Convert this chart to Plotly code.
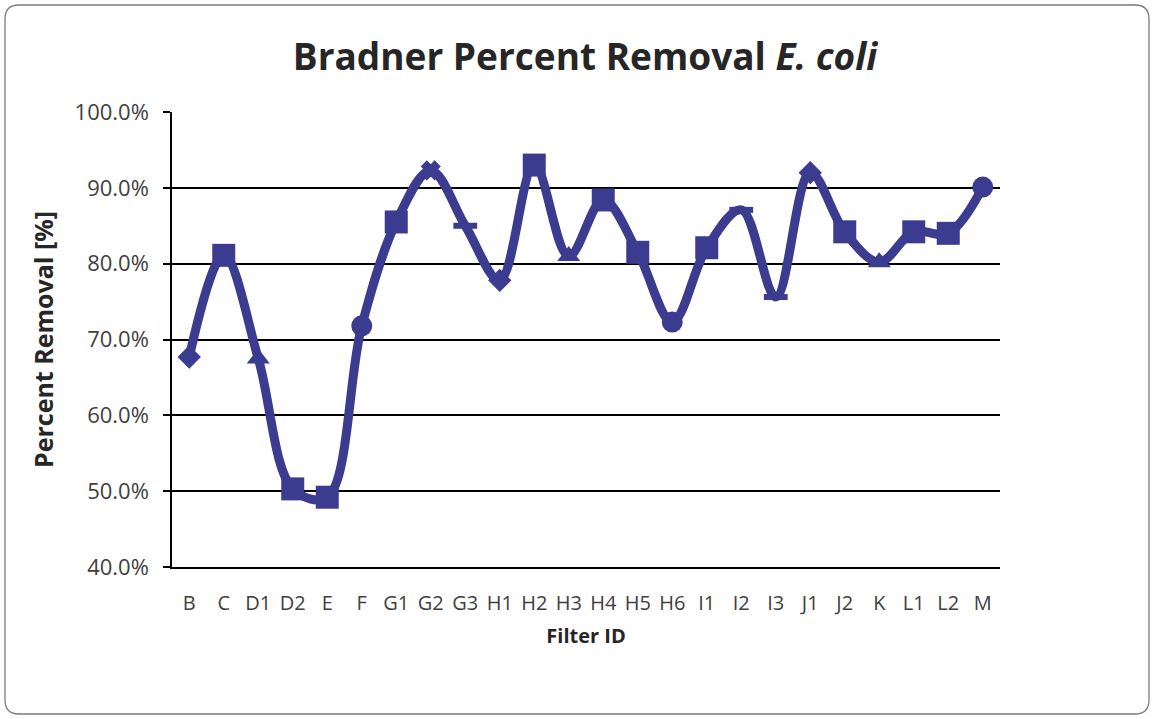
import plotly.graph_objects as go

filters = ["B", "C", "D1", "D2", "E", "F", "G1", "G2", "G3", "H1", "H2", "H3",
           "H4", "H5", "H6", "I1", "I2", "I3", "J1", "J2", "K", "L1", "L2", "M"]
removal = [67.7, 81.1, 67.5, 50.3, 49.2, 71.8, 85.5, 92.3, 85.0, 77.8, 93.0, 81.0,
           88.4, 81.5, 72.3, 82.1, 87.1, 75.6, 92.0, 84.2, 80.2, 84.2, 84.0, 90.1]
symbols = ["diamond", "square", "triangle-up", "square", "square", "circle", "square", "x",
           "line-ew", "diamond", "square", "triangle-up", "square", "square", "circle", "square",
           "line-ew", "line-ew", "diamond", "square", "triangle-up", "square", "square", "circle"]

COLOR = "#3B3B8F"
W, H = 1153, 719
L, R, T, B = 172, 1000, 112, 567

SIZE_BY_SYMBOL = {"diamond": 18, "square": 23, "triangle-up": 20, "circle": 21, "x": 14, "line-ew": 17}
LW_BY_SYMBOL = {"line-ew": 6, "x": 3}
sizes = [SIZE_BY_SYMBOL[s] for s in symbols]
line_w = [LW_BY_SYMBOL.get(s, 0) for s in symbols]

fig = go.Figure()
fig.add_trace(go.Scatter(
    x=filters, y=removal, mode="lines+markers",
    line=dict(color=COLOR, width=9, shape="spline", smoothing=1.0),
    marker=dict(symbol=symbols, size=sizes, color=COLOR, opacity=1,
                line=dict(color=COLOR, width=line_w)),
    showlegend=False, hoverinfo="skip",
))

def px(x):
    return (x - L) / (R - L)

def py(y):
    return (B - y) / (B - T)

# rounded outer border
x0, x1, y0, y1, r = 5, 1149, 5, 714, 14
path = (f"M {px(x0 + r)},{py(y0)} L {px(x1 - r)},{py(y0)} "
        f"Q {px(x1)},{py(y0)} {px(x1)},{py(y0 + r)} L {px(x1)},{py(y1 - r)} "
        f"Q {px(x1)},{py(y1)} {px(x1 - r)},{py(y1)} L {px(x0 + r)},{py(y1)} "
        f"Q {px(x0)},{py(y1)} {px(x0)},{py(y1 - r)} L {px(x0)},{py(y0 + r)} "
        f"Q {px(x0)},{py(y0)} {px(x0 + r)},{py(y0)} Z")
fig.add_shape(type="path", xref="paper", yref="paper", path=path,
              line=dict(color="#7a7a7a", width=1.3), layer="below")

FONT = "'Open Sans', Lato, sans-serif"

fig.update_layout(
    width=W, height=H,
    margin=dict(l=L, r=W - R, t=T, b=H - B),
    paper_bgcolor="white", plot_bgcolor="white",
    font=dict(family=FONT, color="#404040", size=21),
    title=dict(text="<b>Bradner Percent Removal <i>E. coli</i></b>",
               x=585 / W, xanchor="center", y=1 - 57 / H, yanchor="middle",
               font=dict(size=37, color="#262626", family=FONT)),
)
fig.update_xaxes(
    type="category", range=[-0.5, len(filters) - 0.5],
    showline=True, linecolor="black", linewidth=1.5,
    showgrid=False, ticks="", tickfont=dict(size=20, color="#404040"),
    ticklabelstandoff=17,
    title=dict(text="<b>Filter ID</b>", font=dict(size=20, color="#262626"), standoff=14),
)
fig.update_yaxes(
    range=[40, 100], dtick=10, tickformat=".1f", ticksuffix="%",
    showline=True, linecolor="black", linewidth=1.5,
    showgrid=True, gridcolor="black", gridwidth=1.5,
    ticks="outside", ticklen=7, tickcolor="black", tickwidth=1.5,
    tickfont=dict(size=22, color="#404040"), ticklabelstandoff=10,
    title=dict(text="<b>Percent Removal [%]</b>", font=dict(size=25, color="#262626"), standoff=14),
)

fig.write_html("out.html", config={"displayModeBar": False},
               post_script="document.body.style.margin='0';document.body.style.overflow='hidden';")
